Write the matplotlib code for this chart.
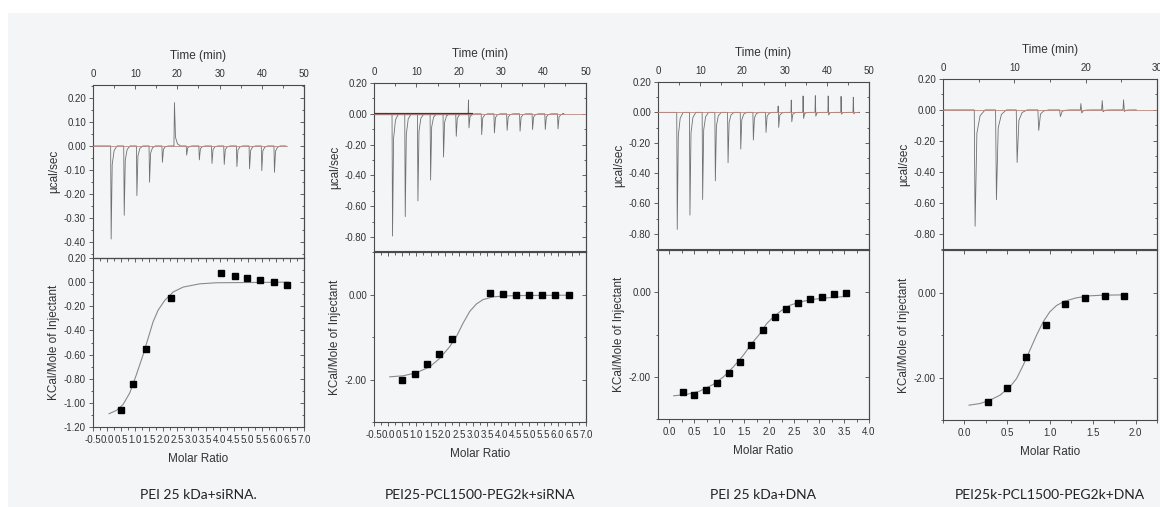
import matplotlib
matplotlib.use('Agg')
import matplotlib.pyplot as plt
from matplotlib.ticker import MultipleLocator, FormatStrFormatter, NullFormatter
from matplotlib.patches import Rectangle

plt.rcParams['font.family'] = ['Liberation Sans', 'DejaVu Sans']

# ---- raw ITC traces: injection time (min), peak value, short positive spike before peak
p1_times = [4.1, 7.2, 10.2, 13.2, 16.25, 19.1, 22.0, 25.0, 28.0, 30.9, 33.9, 36.9, 39.8, 42.8]
p1_peaks = [-0.388, -0.289, -0.207, -0.151, -0.068, 0.181, -0.038, -0.058, -0.073, -0.077,
            -0.086, -0.095, -0.103, -0.110]
p1_spikes = [0] * 14

p2_times = [4.17, 7.17, 10.16, 13.15, 16.2, 19.2, 22.2, 25.2, 28.2, 31.2, 34.25, 37.2, 40.2, 43.2]
p2_peaks = [-0.793, -0.667, -0.565, -0.430, -0.280, -0.146, -0.091, -0.135, -0.124, -0.107,
            -0.113, -0.102, -0.102, -0.098]
p2_spikes = [0, 0, 0, 0, 0, 0, 0.09, 0, 0, 0, 0, 0, 0, 0]

p3_times = [4.36, 7.37, 10.38, 13.39, 16.4, 19.41, 22.4, 25.4, 28.4, 31.5, 34.3, 37.2, 40.25, 43.3, 46.2]
p3_peaks = [-0.771, -0.677, -0.574, -0.451, -0.332, -0.242, -0.182, -0.132, -0.099, -0.062,
            -0.040, -0.025, -0.018, -0.012, -0.010]
p3_spikes = [0, 0, 0, 0, 0, 0, 0, 0, 0.042, 0.081, 0.108, 0.110, 0.108, 0.105, 0.100]

p4_times = [4.3, 7.29, 10.19, 13.22, 16.26, 19.25, 22.24, 25.23]
p4_peaks = [-0.753, -0.581, -0.340, -0.133, -0.043, -0.020, -0.012, -0.010]
p4_spikes = [0, 0, 0, 0, 0, 0.041, 0.060, 0.065]

# ---- integrated heats (molar ratio, kcal/mol) and fitted curves
p1_ratio = [0.51, 0.935, 1.374, 2.264, 4.067, 4.53, 4.99, 5.45, 5.92, 6.39]
p1_heat = [-1.057, -0.844, -0.556, -0.129, 0.077, 0.055, 0.033, 0.016, 0.0, -0.022]
p1_fit_x = [0.069, 0.33, 0.568, 0.805, 1.042, 1.279, 1.457, 1.635, 1.813, 2.05, 2.347, 2.703,
            3.296, 3.889, 5.07, 6.44]
p1_fit_y = [-1.09, -1.063, -1.014, -0.918, -0.767, -0.603, -0.466, -0.329, -0.233, -0.151,
            -0.082, -0.041, -0.014, -0.005, -0.003, 0.0]

p2_ratio = [0.492, 0.941, 1.366, 1.815, 2.252, 3.61, 4.06, 4.52, 4.99, 5.46, 5.92, 6.39]
p2_heat = [-2.016, -1.881, -1.636, -1.391, -1.051, 0.04, 0.016, 0.0, -0.016, -0.016, -0.008, -0.008]
p2_fit_x = [0.055, 0.528, 1.0, 1.472, 1.827, 2.181, 2.417, 2.653, 2.89, 3.126, 3.362, 3.716,
            4.189, 4.779, 6.43]
p2_fit_y = [-1.937, -1.913, -1.842, -1.7, -1.502, -1.225, -0.988, -0.672, -0.395, -0.221,
            -0.119, -0.055, -0.032, -0.024, -0.016]

p3_ratio = [0.288, 0.508, 0.736, 0.957, 1.191, 1.411, 1.645, 1.88, 2.114, 2.348, 2.582, 2.816,
            3.057, 3.298, 3.538]
p3_heat = [-2.364, -2.443, -2.324, -2.142, -1.913, -1.644, -1.257, -0.901, -0.577, -0.395,
           -0.253, -0.158, -0.111, -0.04, -0.016]
p3_fit_x = [0.094, 0.348, 0.615, 0.883, 1.084, 1.284, 1.485, 1.652, 1.819, 1.953, 2.087, 2.254,
            2.421, 2.622, 2.89, 3.224, 3.592]
p3_fit_y = [-2.451, -2.419, -2.34, -2.182, -2.008, -1.771, -1.494, -1.217, -0.98, -0.743,
            -0.585, -0.427, -0.308, -0.229, -0.166, -0.126, -0.095]

p4_ratio = [0.272, 0.493, 0.722, 0.948, 1.177, 1.406, 1.639, 1.868]
p4_heat = [-2.565, -2.251, -1.529, -0.776, -0.259, -0.133, -0.071, -0.086]
p4_fit_x = [0.054, 0.183, 0.299, 0.416, 0.532, 0.61, 0.687, 0.765, 0.843, 0.92, 0.998, 1.076,
            1.173, 1.309, 1.464, 1.619, 1.891]
p4_fit_y = [-2.651, -2.612, -2.533, -2.416, -2.22, -2.024, -1.71, -1.357, -1.004, -0.69,
            -0.455, -0.306, -0.204, -0.125, -0.078, -0.063, -0.055]

captions = ['PEI 25 kDa+siRNA.', 'PEI25-PCL1500-PEG2k+siRNA', 'PEI 25 kDa+DNA',
            'PEI25k-PCL1500-PEG2k+DNA']

W, H = 1160, 507
fig = plt.figure(figsize=(W / 100, H / 100), dpi=100)
fig.patch.set_facecolor('white')
fig.add_artist(Rectangle((8 / W, 0), 1, 1 - 13 / H, transform=fig.transFigure,
                         facecolor='#f4f5f7', edgecolor='none', zorder=-10))

TXT = '#333333'
SPINE = '#4a4a4a'


def px_rect(l, r, t, b):
    return [l / W, 1 - b / H, (r - l) / W, (b - t) / H]


def build_trace(times, peaks, spikes, t_end):
    xs, ys = [0.0], [0.0]
    for t, d, s in zip(times, peaks, spikes):
        xs += [t, t + 0.08, t + 0.2, t + 0.45, t + 0.9, t + 1.6]
        ys += [0.0, s, d, 0.2 * d, 0.05 * d, 0.0]
    xs.append(t_end)
    ys.append(0.0)
    return xs, ys


def style(ax):
    ax.set_facecolor('none')
    for s in ax.spines.values():
        s.set_color(SPINE)
        s.set_linewidth(0.8)
    ax.tick_params(which='both', colors=SPINE, labelcolor=TXT, labelsize=7, width=0.6)
    ax.tick_params(which='major', length=3)
    ax.tick_params(which='minor', length=1.8)


def right_ticks(ax, major, minor):
    sec = ax.secondary_yaxis('right')
    sec.yaxis.set_major_locator(MultipleLocator(major))
    sec.yaxis.set_minor_locator(MultipleLocator(minor))
    sec.yaxis.set_major_formatter(NullFormatter())
    sec.spines['right'].set_color(SPINE)
    sec.spines['right'].set_linewidth(0.8)
    sec.tick_params(which='both', direction='in', colors=SPINE, width=0.6)
    sec.tick_params(which='major', length=3)
    sec.tick_params(which='minor', length=1.8)


def top_ticks(ax, major, minor):
    sec = ax.secondary_xaxis('top')
    sec.xaxis.set_major_locator(MultipleLocator(major))
    sec.xaxis.set_minor_locator(MultipleLocator(minor))
    sec.xaxis.set_major_formatter(NullFormatter())
    sec.spines['top'].set_color(SPINE)
    sec.spines['top'].set_linewidth(0.8)
    sec.tick_params(which='both', direction='in', colors=SPINE, width=0.6)
    sec.tick_params(which='major', length=3)
    sec.tick_params(which='minor', length=1.8)


panels = [
    dict(x=(93, 304), top=(85, 258), bot=(258, 427), tmax=50, ylim_t=(-0.467, 0.254),
         yt=(0.1, 0.05), ylim_b=(-1.2, 0.2), yb=(0.2, 0.1), xlim_b=(-0.5, 7.0),
         trace=(p1_times, p1_peaks, p1_spikes, 45.7), base_end=46, noisy=None,
         pts=(p1_ratio, p1_heat), fit=(p1_fit_x, p1_fit_y)),
    dict(x=(374, 586), top=(83, 251), bot=(252, 422), tmax=50, ylim_t=(-0.89, 0.2),
         yt=(0.2, 0.1), ylim_b=(-3.0, 1.0), yb=(2.0, 1.0), xlim_b=(-0.5, 7.0),
         trace=(p2_times, p2_peaks, p2_spikes, 44.5), base_end=50, noisy=23.0,
         pts=(p2_ratio, p2_heat), fit=(p2_fit_x, p2_fit_y)),
    dict(x=(658, 869), top=(82, 249), bot=(250, 419), tmax=50, ylim_t=(-0.9, 0.2),
         yt=(0.2, 0.1), ylim_b=(-3.0, 1.0), yb=(2.0, 1.0), xlim_b=(-0.22, 4.0),
         trace=(p3_times, p3_peaks, p3_spikes, 47.5), base_end=47.5, noisy=None,
         pts=(p3_ratio, p3_heat), fit=(p3_fit_x, p3_fit_y)),
    dict(x=(943, 1157), top=(79, 249), bot=(250, 420), tmax=30, ylim_t=(-0.9, 0.2),
         yt=(0.2, 0.1), ylim_b=(-3.0, 1.0), yb=(2.0, 1.0), xlim_b=(-0.25, 2.25),
         trace=(p4_times, p4_peaks, p4_spikes, 27.1), base_end=30, noisy=None,
         pts=(p4_ratio, p4_heat), fit=(p4_fit_x, p4_fit_y)),
]

for i, p in enumerate(panels):
    l, r = p['x']
    w = r - l

    # raw heat-flow trace
    ax = fig.add_axes(px_rect(l, r, *p['top']))
    style(ax)
    h_top = p['top'][1] - p['top'][0]
    xs, ys = build_trace(*p['trace'])
    ax.plot(xs, ys, color='#707070', lw=0.6, zorder=3)
    if p['noisy']:
        ax.plot([0, p['noisy']], [0, 0], color='#3a3a3a', lw=1.6, zorder=3)
    ax.plot([0, p['base_end']], [0, 0], color='#e07a6a', lw=0.6, zorder=4)
    ax.set_xlim(0, p['tmax'])
    ax.set_ylim(*p['ylim_t'])
    ax.xaxis.tick_top()
    ax.xaxis.set_major_locator(MultipleLocator(10))
    ax.xaxis.set_minor_locator(MultipleLocator(5))
    ax.xaxis.set_major_formatter(FormatStrFormatter('%d'))
    ax.yaxis.set_major_locator(MultipleLocator(p['yt'][0]))
    ax.yaxis.set_minor_locator(MultipleLocator(p['yt'][1]))
    ax.yaxis.set_major_formatter(FormatStrFormatter('%.2f'))
    ax.tick_params(axis='x', which='both', direction='in', top=True, bottom=False, pad=4)
    ax.tick_params(axis='y', which='both', direction='out', pad=2)
    right_ticks(ax, p['yt'][0], p['yt'][1])
    ax.set_xlabel('Time (min)', fontsize=8.5, color=TXT)
    ax.xaxis.set_label_position('top')
    ax.xaxis.set_label_coords(0.5, 1 + 26 / h_top)
    ax.set_ylabel('µcal/sec', fontsize=8.5, color=TXT)
    ax.yaxis.set_label_coords(-33 / w, 0.5)

    # integrated heats
    bx = fig.add_axes(px_rect(l, r, *p['bot']))
    style(bx)
    h_bot = p['bot'][1] - p['bot'][0]
    bx.plot(p['fit'][0], p['fit'][1], color='#8a8a8a', lw=0.8, zorder=3)
    bx.plot(p['pts'][0], p['pts'][1], 's', color='black', ms=4.8, zorder=4)
    bx.set_xlim(*p['xlim_b'])
    bx.set_ylim(*p['ylim_b'])
    bx.xaxis.set_major_locator(MultipleLocator(0.5))
    bx.xaxis.set_minor_locator(MultipleLocator(0.25))
    bx.xaxis.set_major_formatter(FormatStrFormatter('%.1f'))
    bx.yaxis.set_major_locator(MultipleLocator(p['yb'][0]))
    bx.yaxis.set_minor_locator(MultipleLocator(p['yb'][1]))
    bx.yaxis.set_major_formatter(FormatStrFormatter('%.2f'))
    bx.tick_params(axis='both', which='both', direction='out')
    bx.tick_params(axis='x', pad=3)
    bx.tick_params(axis='y', pad=2)
    right_ticks(bx, p['yb'][0], p['yb'][1])
    top_ticks(bx, 0.5, 0.25)
    bx.set_xlabel('Molar Ratio', fontsize=8.5, color=TXT)
    bx.xaxis.set_label_coords(0.5, -26 / h_bot)
    bx.set_ylabel('KCal/Mole of Injectant', fontsize=8.5, color=TXT)
    bx.yaxis.set_label_coords(-33 / w, 0.5)

    fig.text((l + r) / 2 / W, 1 - 495 / H, captions[i], family=['Lato', 'DejaVu Sans'],
             fontsize=10, color='#222222', ha='center', va='center')

fig.savefig('out.png', dpi=100, facecolor=fig.get_facecolor())
